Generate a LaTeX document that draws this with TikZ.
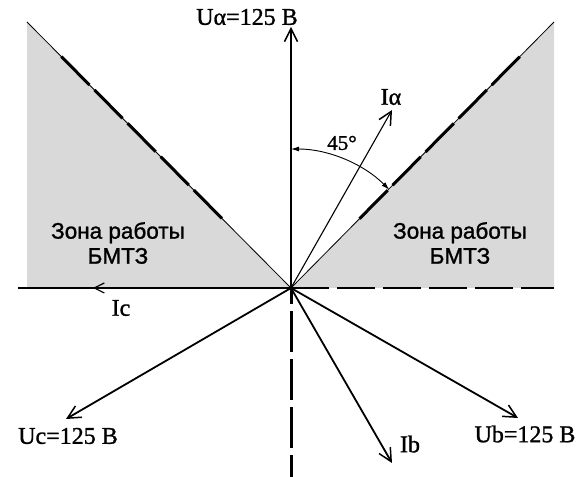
\documentclass[tikz,border=0pt]{standalone}
\usepackage{fontspec}
\setmainfont{Liberation Serif}[FakeBold=1.2]
\newfontfamily\zonefont{Liberation Sans}[FakeBold=1.2]
\usetikzlibrary{arrows.meta,calc}
\begin{document}
\begin{tikzpicture}[x=1pt,y=1pt,
  vec/.style={line width=1.8pt,-{Straight Barb[length=13pt,width=13pt,line width=1.5pt]}},
  vecsmall/.style={line width=1.2pt,-{Straight Barb[length=10pt,width=10pt,line width=1.2pt]}},
  lbl/.style={font=\fontsize{24}{26}\selectfont, inner sep=0pt},
  zone/.style={font=\zonefont\fontsize{22.5}{25}\selectfont, align=center, inner sep=0pt},
  thickdash/.style={line width=3pt, dash pattern=on 40pt off 7pt},
  zonefill/.style={fill=black!15},
]
\useasboundingbox (0,0) rectangle (582,477);
\coordinate (O) at (291,189);
\coordinate (L) at (27,455);
\coordinate (R) at (554,455);
\coordinate (LB) at (27,189);
\coordinate (RB) at (554,189);
\coordinate (HL) at (18,189);
\coordinate (D) at (291,0);
\coordinate (UA) at (291,450);
\coordinate (IA) at (392,367);
\coordinate (IB) at (392,14);
\coordinate (UB) at (518,59);
\coordinate (UC) at (66,58);
\coordinate (IC) at (93,189);
% zones
\fill[zonefill] (L) -- (O) -- (LB) -- cycle;
\fill[zonefill] (R) -- (O) -- (RB) -- cycle;
% axes
\draw[line width=1.2pt] (HL) -- (O);
\draw[line width=1.2pt, dash pattern=on 38pt off 8pt] (O) -- (RB);
\draw[line width=3pt, dash pattern=on 41pt off 7pt, dash phase=25pt] (O) -- (D);
% zone borders
\draw[line width=0.8pt] (O) -- (L);
\draw[line width=0.8pt] (O) -- (R);
\draw[thickdash] ($(L)!0.13!(O)$) -- ($(L)!0.745!(O)$);
\draw[thickdash] ($(R)!0.13!(O)$) -- ($(R)!0.745!(O)$);
% vectors
\draw[vec, line width=2.4pt] (O) -- (UA);
\draw[vec] (O) -- (UB);
\draw[vec] (O) -- (UC);
\draw[vec] (O) -- (IB);
\draw[vec, line width=1.1pt] (O) -- (IA);
\draw[vecsmall] (O) -- (IC);
% angle
\draw[line width=0.9pt, {Latex[length=8pt,width=5pt]}-{Latex[length=8pt,width=5pt]}]
  ($(O)+(90:139)$) arc[start angle=90, end angle=45, radius=139];
% labels
\node[lbl] (tUA) at (247,460) {Uα=125 В};
\node[lbl] (tIA) at (391,380) {Iα};
\node[lbl] (tIB) at (410,33) {Ib};
\node[lbl] (tUB) at (525,43) {Ub=125 В};
\node[lbl] (tUC) at (68,41) {Uc=125 В};
\node[lbl] (tIC) at (121,169) {Ic};
\node[lbl, font=\fontsize{21}{23}\selectfont] (tang) at (342,334) {45°};
\node[zone] (zl) at (118,234) {Зона работы\\БМТЗ};
\node[zone] (zr) at (460,234) {Зона работы\\БМТЗ};
\end{tikzpicture}
\end{document}
